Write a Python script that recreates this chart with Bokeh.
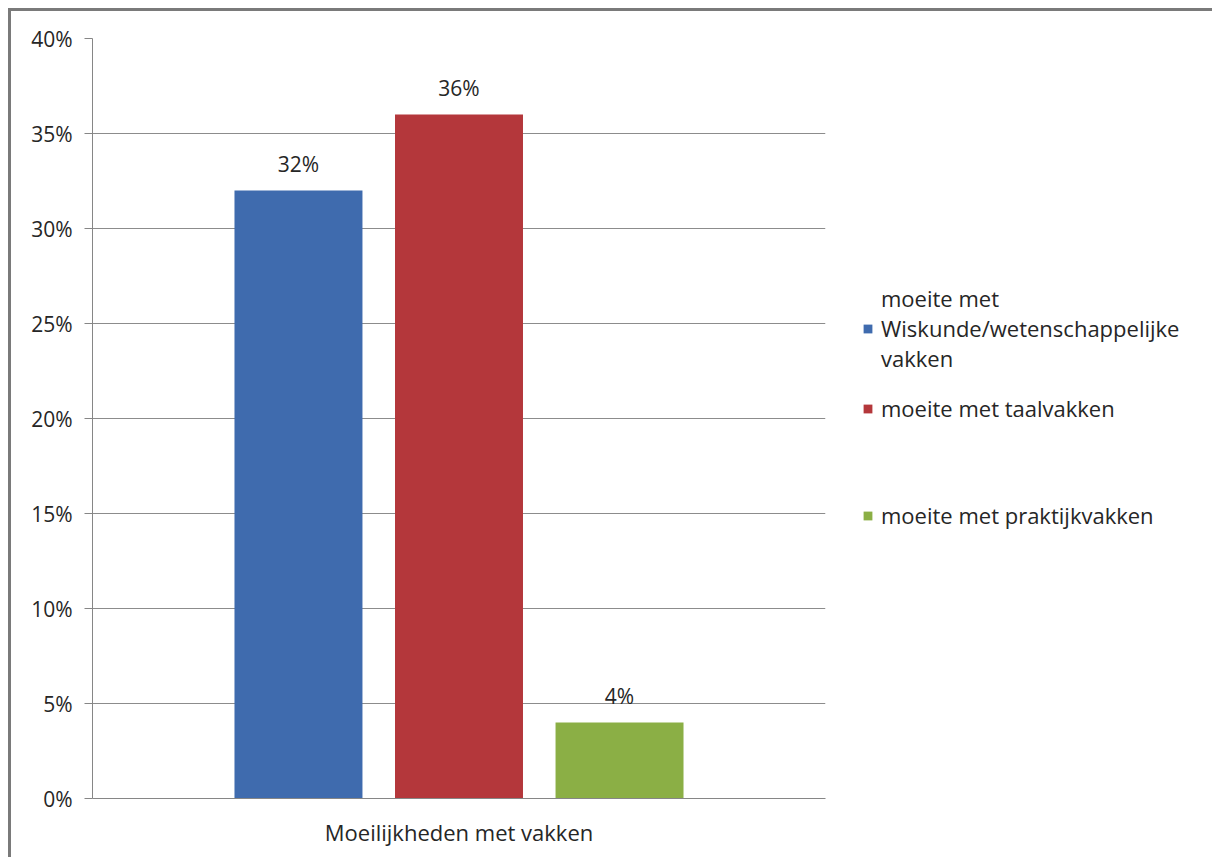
from bokeh.plotting import figure
from bokeh.layouts import row
from bokeh.models import FactorRange, ColumnDataSource, Legend, LegendItem, NumeralTickFormatter, FixedTicker, Range1d
from bokeh.transform import dodge
from bokeh.core.properties import value
from bokeh.embed import file_html
from bokeh.resources import INLINE

categories = ["Moeilijkheden met vakken"]
series = ["moeite met\nWiskunde/wetenschappelijke\nvakken", "moeite met taalvakken", "moeite met praktijkvakken"]
values = [0.32, 0.36, 0.04]
labels = ["32%", "36%", "4%"]
colors = ["#3F6BAE", "#B4373B", "#8BAF45"]
y_ticks = [0, 0.05, 0.10, 0.15, 0.20, 0.25, 0.30, 0.35, 0.40]

FONT = "Open Sans"
FS = "21px"
FS_L = "22px"
TXT = "#262626"

H = 846
p = figure(width=822, height=H, output_backend="svg", toolbar_location=None,
           x_range=FactorRange(factors=categories, range_padding=0), y_range=(0, 0.40),
           min_border_left=81, min_border_right=8, min_border_top=27, min_border_bottom=59,
           background_fill_color="white", border_fill_color="white")
p.outline_line_color = None

# separate panel holding the legend (to the right of the plot area)
pl = figure(width=379, height=H, output_backend="svg", toolbar_location=None,
            x_range=categories, y_range=Range1d(10, 11),
            min_border_left=0, min_border_right=0, min_border_top=0, min_border_bottom=0,
            background_fill_color="white", border_fill_color="white")
pl.axis.visible = False
pl.grid.visible = False
pl.outline_line_color = None

offsets = [-0.219, 0.0, 0.219]
bar_w = 0.1746
legend_locs = [(29, 425), (29, 375), (29, 268)]
for i in range(3):
    src = ColumnDataSource(dict(cat=categories, val=[values[i]], lab=[labels[i]]))
    p.vbar(x=dodge("cat", offsets[i], range=p.x_range), top="val", width=bar_w, source=src,
           fill_color=colors[i], line_color=None)
    p.text(x=dodge("cat", offsets[i], range=p.x_range), y="val", text="lab", source=src,
           text_align="center", text_baseline="bottom", y_offset=-13,
           text_font=value(FONT), text_font_size=FS, text_color=TXT)
    rl = pl.vbar(x="cat", top="val", width=0, source=src, fill_color=colors[i], line_color=None)
    lg = Legend(items=[LegendItem(label=series[i], renderers=[rl])], location=legend_locs[i],
                padding=0, margin=0, border_line_color=None, background_fill_alpha=0,
                glyph_width=11, glyph_height=11, label_standoff=8, label_height=30,
                label_text_font=FONT, label_text_font_size=FS_L, label_text_color=TXT)
    pl.add_layout(lg, "center")

p.yaxis.ticker = FixedTicker(ticks=y_ticks)
p.yaxis.formatter = NumeralTickFormatter(format="0%")
p.yaxis.axis_line_color = "#868686"
p.yaxis.major_tick_line_color = "#868686"
p.yaxis.major_tick_out = 8
p.yaxis.major_tick_in = 0
p.yaxis.minor_tick_line_color = None
p.yaxis.major_label_standoff = 12
p.yaxis.major_label_text_font = FONT
p.yaxis.major_label_text_font_size = FS
p.yaxis.major_label_text_color = TXT

p.xaxis.axis_line_color = "#868686"
p.xaxis.major_tick_line_color = None
p.xaxis.minor_tick_line_color = None
p.xaxis.major_label_standoff = 12
p.xaxis.major_label_text_font = FONT
p.xaxis.major_label_text_font_size = FS_L
p.xaxis.major_label_text_color = TXT

p.xgrid.grid_line_color = None
p.ygrid.grid_line_color = "#8c8c8c"
p.ygrid.grid_line_width = 1

layout = row(p, pl, margin=(8, 0, 0, 8),
             styles={"border-top": "3px solid #7a7a7a", "border-left": "3px solid #7a7a7a"})

open("out.html", "w").write(file_html(layout, INLINE))
